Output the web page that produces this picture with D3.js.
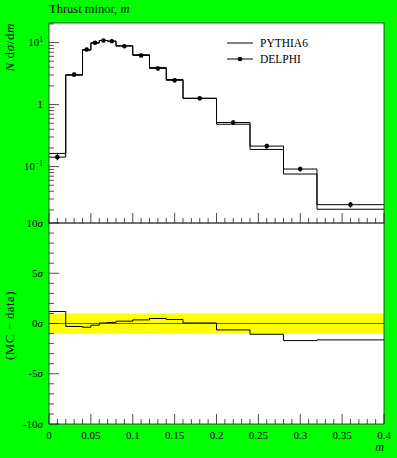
<!DOCTYPE html>
<html>
<head>
<meta charset="utf-8">
<script src="https://cdn.jsdelivr.net/npm/d3@7"></script>
<style>
  html, body { margin: 0; padding: 0; background: #00ff00; }
  svg { display: block; font-family: "Liberation Serif", "DejaVu Serif", serif; }
</style>
</head>
<body>
<svg id="chart" width="397" height="458"></svg>
<script>
'use strict';

// bin edges of the thrust minor histogram
const edges = [0, 0.02, 0.04, 0.05, 0.06, 0.07, 0.08, 0.10, 0.12, 0.14, 0.16, 0.20, 0.24, 0.28, 0.32, 0.40];

// DELPHI data, N dsigma/dm, and its errors
const delphi = [0.142, 3.04, 7.74, 9.93, 10.8, 10.5, 8.75, 6.2, 3.83, 2.46, 1.26, 0.514, 0.214, 0.0912, 0.0243];
const delphiErr = [0.016, 0.22, 0.5, 0.6, 0.65, 0.62, 0.55, 0.4, 0.26, 0.17, 0.09, 0.045, 0.02, 0.009, 0.0025];

// PYTHIA6 prediction
const pythia = [0.163, 2.97, 7.51, 9.79, 10.84, 10.58, 8.91, 6.38, 3.98, 2.54, 1.265, 0.482, 0.189, 0.0758, 0.0205];

// (MC - data) in units of sigma
const deviation = [1.19, -0.30, -0.37, -0.17, 0.05, 0.1, 0.23, 0.36, 0.5, 0.4, 0.05, -0.64, -1.07, -1.7, -1.63];

const xTickLabels = ['0', '0.05', '0.1', '0.15', '0.2', '0.25', '0.3', '0.35', '0.4'];
const devTicks = [10, 5, 0, -5, -10];

const svg = d3.select('#chart');

const left = 49, right = 384;
const upTop = 23, upBottom = 223;
const lowTop = 223, lowBottom = 424;

const x = d3.scaleLinear().domain([0, 0.4]).range([left, right]);
const yUp = d3.scaleLog().domain([0.0123, 20.7]).range([upBottom, upTop]);
const yLow = d3.scaleLinear().domain([-10, 10]).range([lowBottom, lowTop]);

// panels
svg.append('rect')
	.attr('x', left).attr('y', upTop)
	.attr('width', right - left).attr('height', lowBottom - upTop)
	.attr('fill', '#fff');

// yellow 1 sigma band
svg.append('rect')
	.attr('x', left).attr('y', yLow(1))
	.attr('width', right - left).attr('height', yLow(-1) - yLow(1))
	.attr('fill', '#ffff00');

svg.append('line')
	.attr('x1', left).attr('x2', right)
	.attr('y1', yLow(0)).attr('y2', yLow(0))
	.attr('stroke', '#333').attr('stroke-width', 0.8);

function stepPath(values, y) {
	const pts = [];
	values.forEach((v, i) => {
		pts.push([x(edges[i]), y(v)]);
		pts.push([x(edges[i + 1]), y(v)]);
	});
	return d3.line()(pts);
}

svg.append('path')
	.attr('d', stepPath(pythia, yUp))
	.attr('fill', 'none').attr('stroke', '#000').attr('stroke-width', 1);

svg.append('path')
	.attr('d', stepPath(delphi, yUp))
	.attr('fill', 'none').attr('stroke', '#000').attr('stroke-width', 1);

const centers = edges.slice(0, -1).map((e, i) => (e + edges[i + 1]) / 2);

const $pts = svg.append('g');
$pts.selectAll('line')
	.data(delphi)
	.join('line')
	.attr('x1', (d, i) => x(centers[i])).attr('x2', (d, i) => x(centers[i]))
	.attr('y1', (d, i) => yUp(d - delphiErr[i]))
	.attr('y2', (d, i) => yUp(d + delphiErr[i]))
	.attr('stroke', '#000').attr('stroke-width', 1.2);
$pts.selectAll('circle')
	.data(delphi)
	.join('circle')
	.attr('cx', (d, i) => x(centers[i]))
	.attr('cy', d => yUp(d))
	.attr('r', 2.3)
	.attr('fill', '#000');

svg.append('path')
	.attr('d', stepPath(deviation, yLow))
	.attr('fill', 'none').attr('stroke', '#000').attr('stroke-width', 1);

// frames
[[upTop, upBottom], [lowTop, lowBottom]].forEach(([t, b]) => {
	svg.append('rect')
		.attr('x', left).attr('y', t)
		.attr('width', right - left).attr('height', b - t)
		.attr('fill', 'none').attr('stroke', '#222').attr('stroke-width', 0.8);
});

// ticks
const $ticks = svg.append('g').attr('stroke', '#222').attr('stroke-width', 0.8);

[upBottom, lowBottom].forEach(b => {
	$ticks.selectAll(null)
		.data(x.ticks(40))
		.join('line')
		.attr('x1', d => x(d)).attr('x2', d => x(d))
		.attr('y1', b)
		.attr('y2', d => b - (Math.round(d * 100) % 5 === 0 ? 10 : 5));
});

$ticks.selectAll(null)
	.data(yUp.ticks())
	.join('line')
	.attr('x1', left)
	.attr('x2', d => left + (Math.abs(Math.log10(d) - Math.round(Math.log10(d))) < 1e-6 ? 10 : 5))
	.attr('y1', d => yUp(d)).attr('y2', d => yUp(d));

$ticks.selectAll(null)
	.data(d3.range(-10, 11))
	.join('line')
	.attr('x1', left)
	.attr('x2', d => left + (d % 5 === 0 ? 10 : 5))
	.attr('y1', d => yLow(d)).attr('y2', d => yLow(d));

// tick labels
const $lab = svg.append('g').attr('font-size', 11).attr('fill', '#000');

$lab.selectAll(null)
	.data(xTickLabels)
	.join('text')
	.attr('x', d => x(+d))
	.attr('y', 439)
	.attr('text-anchor', 'middle')
	.text(d => d);

const upLabels = [[10, '10', '1'], [1, '1', null], [0.1, '10', '\u22121']];
upLabels.forEach(([v, base, exp]) => {
	const t = $lab.append('text')
		.attr('x', left - 6)
		.attr('y', yUp(v) + 3.5)
		.attr('text-anchor', 'end');
	t.append('tspan').text(base);
	if (exp) {
		t.append('tspan').attr('font-size', 7.5).attr('dy', -4).text(exp);
	}
});

devTicks.forEach(v => {
	const t = $lab.append('text')
		.attr('x', left - 6)
		.attr('y', yLow(v) + 3.5)
		.attr('text-anchor', 'end');
	t.append('tspan').text(v < 0 ? '-' + Math.abs(v) : String(v));
	t.append('tspan').attr('font-style', 'italic').text('\u03c3');
});

// axis titles
const title = svg.append('text').attr('x', left).attr('y', 13).attr('font-size', 12.5);
title.append('tspan').text('Thrust minor, ');
title.append('tspan').attr('font-style', 'italic').text('m');

const yt = svg.append('text')
	.attr('transform', 'translate(14,' + upTop + ') rotate(-90)')
	.attr('text-anchor', 'end')
	.attr('font-size', 13)
	.attr('letter-spacing', 0.6);
yt.append('tspan').attr('font-style', 'italic').text('N');
yt.append('tspan').text(' d');
yt.append('tspan').attr('font-style', 'italic').text('\u03c3');
yt.append('tspan').text('/d');
yt.append('tspan').attr('font-style', 'italic').text('m');

svg.append('text')
	.attr('transform', 'translate(14,' + (yLow(0) + 2) + ') rotate(-90)')
	.attr('text-anchor', 'middle')
	.attr('font-size', 13)
	.attr('letter-spacing', 0.4)
	.text('(MC \u2212 data)');

svg.append('text')
	.attr('x', right).attr('y', 451)
	.attr('text-anchor', 'end')
	.attr('font-size', 12)
	.attr('font-style', 'italic')
	.text('m');

// legend
const $leg = svg.append('g').attr('font-size', 11.5);
$leg.append('line')
	.attr('x1', 227).attr('x2', 253).attr('y1', 43).attr('y2', 43)
	.attr('stroke', '#000').attr('stroke-width', 1);
$leg.append('text').attr('x', 260).attr('y', 47).text('PYTHIA6');
$leg.append('line')
	.attr('x1', 227).attr('x2', 253).attr('y1', 59).attr('y2', 59)
	.attr('stroke', '#000').attr('stroke-width', 1);
$leg.append('circle').attr('cx', 240).attr('cy', 59).attr('r', 2.3).attr('fill', '#000');
$leg.append('text').attr('x', 260).attr('y', 63).text('DELPHI');
</script>
</body>
</html>
